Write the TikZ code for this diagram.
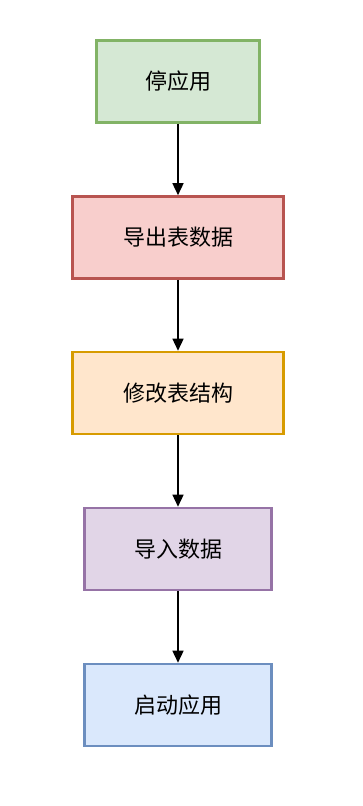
\documentclass[tikz,border=0pt]{standalone}
\usepackage{fontspec}
\newfontfamily\cjk{Noto Sans CJK SC}
\usetikzlibrary{arrows.meta}
\definecolor{gfill}{HTML}{D5E8D4}\definecolor{gline}{HTML}{82B366}
\definecolor{rfill}{HTML}{F8CECC}\definecolor{rline}{HTML}{B85450}
\definecolor{ofill}{HTML}{FFE6CC}\definecolor{oline}{HTML}{D79B00}
\definecolor{pfill}{HTML}{E1D5E7}\definecolor{pline}{HTML}{9673A6}
\definecolor{bfill}{HTML}{DAE8FC}\definecolor{bline}{HTML}{6C8EBF}
\begin{document}
\begin{tikzpicture}[x=1pt,y=-1pt,
  box/.style={draw, line width=2.6pt, inner sep=0pt, font=\cjk\fontsize{22}{24}\selectfont},
  arr/.style={line width=1.5pt, -{Triangle[width=11pt,length=12pt]}}]
\useasboundingbox[fill=white] (0,0) rectangle (362,806);
\node[box, fill=gfill, draw=gline, minimum width=163pt, minimum height=82pt] (a) at (178,81.5) {停应用};
\node[box, fill=rfill, draw=rline, minimum width=211pt, minimum height=82pt] (b) at (178,237.5) {导出表数据};
\node[box, fill=ofill, draw=oline, minimum width=211pt, minimum height=82pt] (c) at (178,393) {修改表结构};
\node[box, fill=pfill, draw=pline, minimum width=187pt, minimum height=82pt] (d) at (178,549) {导入数据};
\node[box, fill=bfill, draw=bline, minimum width=187pt, minimum height=82pt] (e) at (178,705) {启动应用};
\draw[arr] (a) -- (b);
\draw[arr] (b) -- (c);
\draw[arr] (c) -- (d);
\draw[arr] (d) -- (e);
\end{tikzpicture}
\end{document}
